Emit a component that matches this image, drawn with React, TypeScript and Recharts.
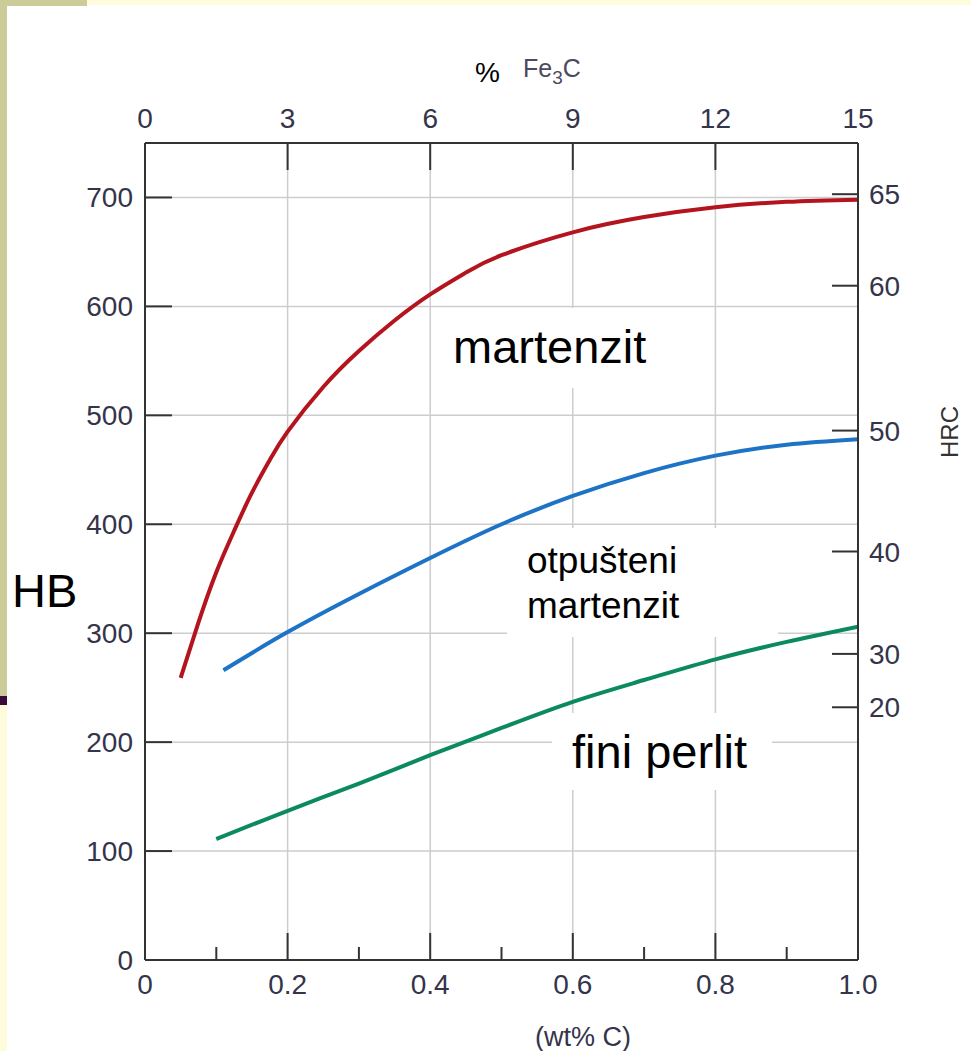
import React from 'react';
import { LineChart, Line, XAxis, YAxis, CartesianGrid } from 'recharts';

// wt% C on the bottom axis, HB on the left
const martenzit = [
  { c: 0.05, hb: 259 },
  { c: 0.075, hb: 310 },
  { c: 0.1, hb: 356 },
  { c: 0.125, hb: 394 },
  { c: 0.15, hb: 429 },
  { c: 0.175, hb: 459 },
  { c: 0.2, hb: 485 },
  { c: 0.25, hb: 526 },
  { c: 0.3, hb: 559 },
  { c: 0.35, hb: 587 },
  { c: 0.4, hb: 611 },
  { c: 0.45, hb: 631 },
  { c: 0.5, hb: 647 },
  { c: 0.6, hb: 668 },
  { c: 0.7, hb: 682 },
  { c: 0.8, hb: 691 },
  { c: 0.9, hb: 696 },
  { c: 1.0, hb: 698 }
];

const otpusteni = [
  { c: 0.11, hb: 266 },
  { c: 0.2, hb: 301 },
  { c: 0.3, hb: 336 },
  { c: 0.4, hb: 369 },
  { c: 0.5, hb: 400 },
  { c: 0.6, hb: 426 },
  { c: 0.7, hb: 447 },
  { c: 0.8, hb: 463 },
  { c: 0.9, hb: 473 },
  { c: 1.0, hb: 478 }
];

const finiPerlit = [
  { c: 0.1, hb: 111 },
  { c: 0.2, hb: 137 },
  { c: 0.3, hb: 162 },
  { c: 0.4, hb: 188 },
  { c: 0.5, hb: 213 },
  { c: 0.6, hb: 237 },
  { c: 0.7, hb: 257 },
  { c: 0.8, hb: 276 },
  { c: 0.9, hb: 292 },
  { c: 1.0, hb: 306 }
];

const carbonTicks = [0, 0.1, 0.2, 0.3, 0.4, 0.5, 0.6, 0.7, 0.8, 0.9, 1.0];
const fe3cTicks = [0, 3, 6, 9, 12, 15];
const FE3C_MAX = 15; // 15 % Fe3C at 1.0 wt% C
const hbTicks = [0, 100, 200, 300, 400, 500, 600, 700];
// HRC scale is not linear: its labels sit at these HB values
const hrcLabels = [20, 30, 40, 50, 60, 65];
const hrcAtHb = [232, 281, 375, 486, 619, 703];

const FONT = '"Liberation Sans", Arial, sans-serif';
const TICK_COLOR = '#34344a';
const AXIS = '#333';

const BottomTick = (props: any) => {
  const { x, y, payload } = props;
  const v = payload.value;
  const major = Math.round(v * 10) % 2 === 0;
  return (
    <g>
      <line x1={x} x2={x} y1={y} y2={y - (major ? 27 : 13)} stroke={AXIS} strokeWidth={2} />
      {major && (
        <text x={x} y={y + 34} textAnchor="middle" fontSize={28} fontFamily={FONT} fill={TICK_COLOR}>
          {v === 0 ? '0' : v.toFixed(1)}
        </text>
      )}
    </g>
  );
};

const TopTick = (props: any) => {
  const { x, y, payload } = props;
  return (
    <g>
      <line x1={x} x2={x} y1={y} y2={y + 27} stroke={AXIS} strokeWidth={2} />
      <text x={x} y={y - 15} textAnchor="middle" fontSize={28} fontFamily={FONT} fill={TICK_COLOR}>
        {Math.round(payload.value * FE3C_MAX)}
      </text>
    </g>
  );
};

const LeftTick = (props: any) => {
  const { x, y, payload } = props;
  return (
    <g>
      <line x1={x} x2={x + 27} y1={y} y2={y} stroke={AXIS} strokeWidth={2} />
      <text x={x - 12} y={y + 10} textAnchor="end" fontSize={28} fontFamily={FONT} fill={TICK_COLOR}>
        {payload.value}
      </text>
    </g>
  );
};

const RightTick = (props: any) => {
  const { x, y, payload } = props;
  const i = hrcAtHb.indexOf(payload.value);
  return (
    <g>
      <line x1={x} x2={x - 26} y1={y} y2={y} stroke={AXIS} strokeWidth={2} />
      <text x={x + 11} y={y + 10} textAnchor="start" fontSize={28} fontFamily={FONT} fill={TICK_COLOR}>
        {hrcLabels[i]}
      </text>
    </g>
  );
};

const axisLine = { stroke: AXIS, strokeWidth: 2 };

export default function App() {
  return (
    <div style={{ position: 'absolute', left: 0, top: 0, width: 971, height: 1051, background: '#fff', overflow: 'hidden' }}>
      {/* slide decoration */}
      <div style={{ position: 'absolute', left: 0, top: 0, width: 971, height: 5, background: '#fffcdc' }} />
      <div style={{ position: 'absolute', left: 0, top: 0, width: 87, height: 6, background: '#cccc98' }} />
      <div style={{ position: 'absolute', left: 0, top: 0, width: 7, height: 696, background: '#cccc98' }} />
      <div style={{ position: 'absolute', left: 0, top: 696, width: 7, height: 9, background: '#3b0b3b' }} />
      <div style={{ position: 'absolute', left: 0, top: 705, width: 7, height: 346, background: '#fffcdc' }} />

      <div style={{ position: 'absolute', left: 0, top: 0 }}>
        <LineChart width={971} height={1051} margin={{ top: 103, right: 53, bottom: 51, left: 85 }}>
          <CartesianGrid
            xAxisId="bottom"
            yAxisId="hb"
            stroke="#cdcdcd"
            strokeWidth={1.5}
            verticalValues={[0.2, 0.4, 0.6, 0.8]}
            horizontalValues={[100, 200, 300, 400, 500, 600, 700]}
          />
          <XAxis
            xAxisId="bottom"
            type="number"
            dataKey="c"
            domain={[0, 1]}
            allowDataOverflow
            ticks={carbonTicks}
            interval={0}
            tickLine={false}
            tickSize={0}
            tickMargin={0}
            axisLine={axisLine}
            tick={<BottomTick />}
            height={40}
          />
          {/* % Fe3C scale: same positions as wt% C, labels scaled */}
          <XAxis
            xAxisId="top"
            orientation="top"
            type="number"
            dataKey="c"
            domain={[0, 1]}
            allowDataOverflow
            ticks={fe3cTicks.map((v) => v / FE3C_MAX)}
            interval={0}
            tickLine={false}
            tickSize={0}
            tickMargin={0}
            axisLine={axisLine}
            tick={<TopTick />}
            height={40}
          />
          <YAxis
            yAxisId="hb"
            type="number"
            domain={[0, 750]}
            allowDataOverflow
            ticks={hbTicks}
            interval={0}
            tickLine={false}
            tickSize={0}
            tickMargin={0}
            axisLine={axisLine}
            tick={<LeftTick />}
            width={60}
          />
          <YAxis
            yAxisId="hrc"
            orientation="right"
            type="number"
            domain={[0, 750]}
            allowDataOverflow
            ticks={hrcAtHb}
            interval={0}
            tickLine={false}
            tickSize={0}
            tickMargin={0}
            axisLine={axisLine}
            tick={<RightTick />}
            width={60}
          />
          <Line xAxisId="bottom" yAxisId="hb" data={martenzit} dataKey="hb" type="natural" stroke="#b3141e" strokeWidth={4} dot={false} isAnimationActive={false} />
          <Line xAxisId="bottom" yAxisId="hb" data={otpusteni} dataKey="hb" type="natural" stroke="#1d74c6" strokeWidth={4} dot={false} isAnimationActive={false} />
          <Line xAxisId="top" yAxisId="hrc" data={finiPerlit} dataKey="hb" type="natural" stroke="#0b8a60" strokeWidth={4} dot={false} isAnimationActive={false} />
        </LineChart>
      </div>

      {/* labels */}
      <svg width={971} height={1051} style={{ position: 'absolute', left: 0, top: 0, pointerEvents: 'none' }} fontFamily={FONT}>
        <rect x={432} y={308} width={258} height={80} fill="#fff" />
        <text x={453} y={363} fontSize={47} fill="#000">martenzit</text>

        <rect x={507} y={528} width={271} height={109} fill="#fff" />
        <text x={527} y={573} fontSize={37} fill="#000">otpušteni</text>
        <text x={527} y={618} fontSize={37} fill="#000">martenzit</text>

        <rect x={552} y={713} width={220} height={77} fill="#fff" />
        <text x={572} y={768} fontSize={47} fill="#000">fini perlit</text>

        <text x={12} y={607} fontSize={47} fill="#000">HB</text>

        <text x={475} y={82} fontSize={28} fill="#000">%</text>
        <text x={523} y={77} fontSize={25} fill="#4a4a60">
          <tspan>Fe</tspan>
          <tspan dy={7} fontSize={19}>3</tspan>
          <tspan dy={-7}>C</tspan>
        </text>

        <text x={958} y={432} fontSize={24} fill="#333" textAnchor="middle" transform="rotate(-90 958 432)">HRC</text>

        <text x={535} y={1046} fontSize={27} fill={TICK_COLOR}>(wt% C)</text>
      </svg>
    </div>
  );
}
